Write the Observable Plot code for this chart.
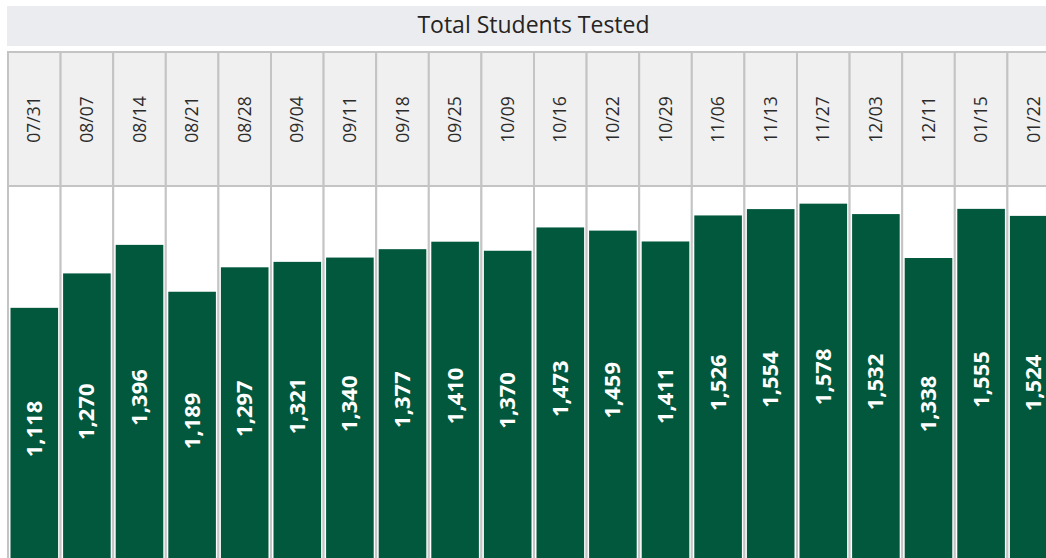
<!DOCTYPE html>
<html>
<head>
<meta charset="utf-8">
<script src="https://cdn.jsdelivr.net/npm/d3@7"></script>
<script src="https://cdn.jsdelivr.net/npm/@observablehq/plot@0.6"></script>
<style>
  html, body { margin: 0; padding: 0; background: #ffffff; overflow: hidden; width: 1046px; height: 558px; }
  #title { position: absolute; left: 7px; top: 6px; width: 1053px; height: 40px; background: #ebecef;
    font-family: "Open Sans", "Noto Sans", sans-serif; font-size: 23px; color: #252423;
    display: flex; align-items: center; justify-content: center; box-sizing: border-box; padding-bottom: 4px; }
  #header { position: absolute; left: 0; top: 52px; width: 1060px; }
  #bars { position: absolute; left: 0; top: 186px; width: 1060px; }
  svg { overflow: visible; max-width: none !important; }
</style>
</head>
<body>
<div id="title">Total Students Tested</div>
<div id="header"></div>
<div id="bars"></div>
<script>
const dates = ["07/31","08/07","08/14","08/21","08/28","09/04","09/11","09/18","09/25","10/09",
               "10/16","10/22","10/29","11/06","11/13","11/27","12/03","12/11","01/15","01/22"];
const tested = [1118,1270,1396,1189,1297,1321,1340,1377,1410,1370,
                1473,1459,1411,1526,1554,1578,1532,1338,1555,1524];
const yMax = 1656;
const labelFloor = 53; // value where the visible part of the bars ends

const rows = dates.map((d, i) => ({date: d, value: tested[i]}));
const fmt = d3.format(",");

const header = Plot.plot({
  width: 1060, height: 134,
  style: {maxWidth: "none", overflow: "visible"},
  marginLeft: 8, marginRight: 0, marginTop: 0, marginBottom: 0,
  x: {type: "band", domain: dates, padding: 0, round: false, axis: null},
  marks: [
    Plot.cell(dates, {x: d => d, fill: "#f0f0f0", stroke: "#c4c4c4", strokeWidth: 2}),
    Plot.text(dates, {x: d => d, text: d => d, rotate: -90, frameAnchor: "middle",
      fontSize: 17.5, fill: "#2b2b2b", fontFamily: "Open Sans, Noto Sans, sans-serif"})
  ]
});
document.getElementById("header").appendChild(header);

const bars = Plot.plot({
  width: 1060, height: 380,
  style: {maxWidth: "none", overflow: "visible"},
  marginLeft: 8, marginRight: 0, marginTop: 0, marginBottom: 5,
  x: {type: "band", domain: dates, padding: 0, round: false, axis: null},
  y: {domain: [0, yMax], axis: null},
  marks: [
    Plot.cell(dates, {x: d => d, fill: "white", stroke: "#c4c4c4", strokeWidth: 2}),
    Plot.barY(rows, {x: "date", y: "value", fill: "#02583d", insetLeft: 2.5, insetRight: 2.5}),
    Plot.text(rows, {x: "date", y: d => (d.value + labelFloor) / 2, text: d => fmt(d.value),
      rotate: -90, fill: "white", fontWeight: "bold", fontSize: 22,
      fontFamily: "Open Sans, Noto Sans, sans-serif"})
  ]
});
document.getElementById("bars").appendChild(bars);
</script>
</body>
</html>
